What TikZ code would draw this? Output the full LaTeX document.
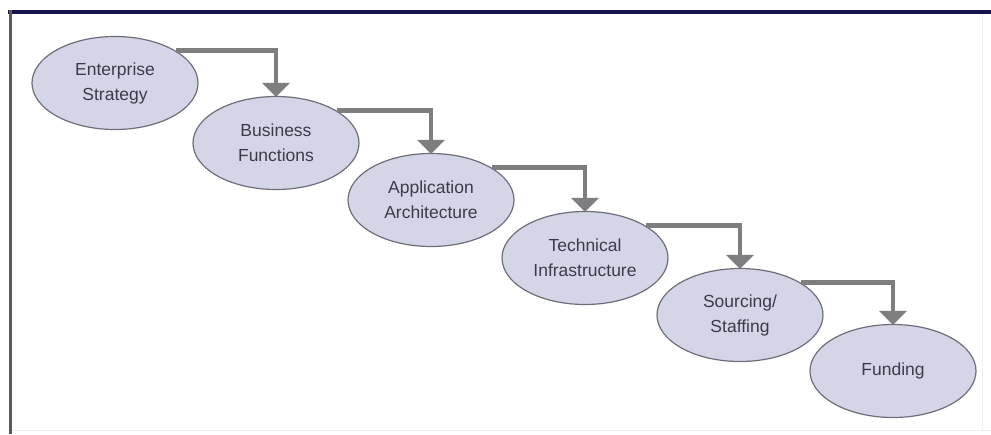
\documentclass[tikz,border=0pt]{standalone}
\usepackage{fontspec}
\setmainfont{Liberation Sans}
\usetikzlibrary{shapes.geometric,arrows.meta}
\definecolor{efill}{HTML}{D5D5E8}
\definecolor{edraw}{HTML}{6E6E78}
\definecolor{etext}{HTML}{3C3C48}
\definecolor{conn}{HTML}{7E7E80}
\definecolor{navy}{HTML}{15154A}
\tikzset{
  stage/.style={ellipse, draw=edraw, line width=1.2pt, fill=efill, minimum width=166pt, minimum height=93pt, inner sep=0pt, align=center, text=etext, font=\fontsize{17.5}{25}\selectfont},
  flow/.style={draw=conn, line width=4.5pt, -{Triangle[width=27pt,length=14pt]}, shorten >=-1pt}
}
\begin{document}
\begin{tikzpicture}[x=1pt,y=-1pt]
\useasboundingbox (0,0) rectangle (991,434);
\fill[white] (0,0) rectangle (991,434);
\draw[gray!15, line width=1pt] (10,430) -- (991,430);
\draw[gray!12, line width=1pt] (982,14) -- (982,430);
\draw[navy, line width=4pt] (8,12) -- (991,12);
\draw[gray!70!black, line width=3pt] (10,10) -- (10,434);
\node[stage] (e1) at (115,83) {Enterprise\\Strategy};
\node[stage] (e2) at (276,143) {Business\\Functions};
\node[stage] (e3) at (431,200) {Application\\Architecture};
\node[stage] (e4) at (585,258) {Technical\\Infrastructure};
\node[stage] (e5) at (740,315) {Sourcing/\\Staffing};
\node[stage] (e6) at (893,371) {Funding};
\draw[flow] (e1.28) -| (e2.north);
\draw[flow] (e2.28) -| (e3.north);
\draw[flow] (e3.28) -| (e4.north);
\draw[flow] (e4.28) -| (e5.north);
\draw[flow] (e5.28) -| (e6.north);
\end{tikzpicture}
\end{document}
